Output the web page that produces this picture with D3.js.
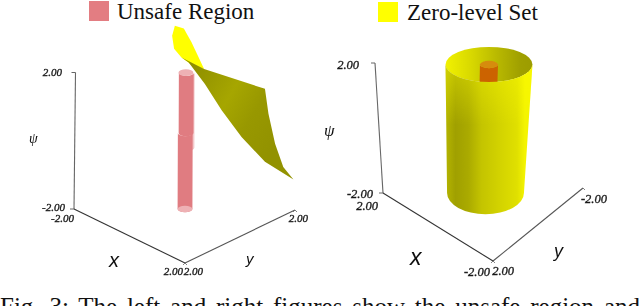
<!DOCTYPE html>
<html>
<head>
<meta charset="utf-8">
<script src="https://cdn.jsdelivr.net/npm/d3@7/dist/d3.min.js"></script>
<style>
html, body { margin: 0; padding: 0; background: #fff; overflow: hidden; }
svg { display: block; }
text { fill: #111; }
.legend, .caption { font-family: "Liberation Serif", serif; }
.tick { font-family: "Liberation Serif", serif; font-style: italic; stroke: #222; stroke-width: 0.35px; }
.axisname { font-family: "Liberation Sans", sans-serif; font-style: italic; }
.psi { font-family: "Liberation Serif", serif; font-style: italic; }
</style>
</head>
<body>
<svg></svg>
<script>
var width = 640;
var height = 306;

// values
var legendNames = ["Unsafe Region", "Zero-level Set"];
var captionText = "Fig. 3: The left and right figures show the unsafe region and";
var psiDomain = [-2, 2];
var tickNamesLeft = ["2.00", "-2.00", "-2.00", "2.00", "2.00", "2.00"];
var tickNamesRight = ["2.00", "-2.00", "2.00", "-2.00", "2.00", "-2.00"];

// radius / psi range of the cylinders
var unsafeRadius = 0.19;
var unsafeSegments = [
    { from: -0.2, to: 2, shift: 0.045, color: "#f3c9cb" },
    { from: 0.23, to: 2, shift: 0.02, color: "#e07c81" },
    { from: -2, to: 0.23, shift: 0, color: "#e07c81" }
];
var levelRadius = 1.08;
var innerRadius = 0.225;

// zero level surface, [h, psi] where h runs across the view
var surfaceBack = [[-0.26, 3.39], [-0.03, 3.31], [0.17, 2.90], [0.49, 2.12], [0.2, 2.22],
    [-0.09, 2.46], [-0.28, 2.72], [-0.33, 3.10]];
var surfaceFront = [[-0.09, 2.46], [0.49, 2.12], [2.05, 1.54], [2.14, 0.81], [2.31, -0.07],
    [2.52, -0.75], [2.78, -1.12], [2.05, -0.60], [1.45, 0.13], [0.94, 0.91], [0.51, 1.68], [0.09, 2.32]];

// shading stops
var bodyStops = [[0, "#b4b400"], [0.12, "#a0a000"], [0.28, "#aaaa00"], [0.45, "#c4c400"], [0.7, "#d4d400"], [0.9, "#e0e000"], [1, "#f4f400"]];
var wallStops = [[0, "#f2f200"], [0.3, "#d8d800"], [0.6, "#b8b800"], [0.85, "#a0a000"], [1, "#9c9c00"]];
var frontStops = [[0, "#8c8c00"], [0.45, "#a6a600"], [0.7, "#989800"], [1, "#929200"]];

var svg = d3.select("svg").attr("width", width).attr("height", height);
var defs = svg.append("defs");

defs.append("filter").attr("id", "soft")
    .attr("x", "-5%").attr("y", "-5%").attr("width", "110%").attr("height", "110%")
    .append("feGaussianBlur").attr("stdDeviation", 0.4);

function addGradient(id, stops, x1, y1, x2, y2) {
    var g = defs.append("linearGradient").attr("id", id)
        .attr("gradientUnits", "userSpaceOnUse")
        .attr("x1", x1).attr("y1", y1).attr("x2", x2).attr("y2", y2);
    g.selectAll("stop").data(stops).enter().append("stop")
        .attr("offset", function (d) { return d[0]; })
        .attr("stop-color", function (d) { return d[1]; });
    return g;
}
addGradient("body", bodyStops, 446, 0, 525, 0);
addGradient("wall", wallStops, 445, 0, 533, 0);
addGradient("front", frontStops, 190, 60, 290, 120);
var glow = addGradient("glow", [[0, "#ffff00"], [1, "#ffff00"]], 0, 66, 0, 125);
glow.selectAll("stop").attr("stop-opacity", function (d, i) { return i ? 0 : 0.4; });

// one panel of the 3d box, psi scales give the centre and size of a slice
function makePanel(o) {
    return {
        xAxis: d3.scaleLinear().domain(o.xDomain).range(o.xRange),
        yAxis: d3.scaleLinear().domain(o.yDomain).range(o.yRange),
        psiAxis: d3.scaleLinear().domain(psiDomain).range(o.psiRange),
        cx: d3.scaleLinear().domain(psiDomain).range(o.cx),
        cy: d3.scaleLinear().domain(psiDomain).range(o.cy),
        grow: d3.scaleLinear().domain(psiDomain).range(o.grow),
        open: d3.scaleLinear().domain(psiDomain).range(o.open),
        h: d3.scaleLinear().domain([0, 1]).range([0, o.unit])
    };
}

var left = makePanel({
    xDomain: [-2, 2], xRange: [[74, 209], [185, 263]],
    yDomain: [2, -2], yRange: [[185, 263], [295, 210]],
    psiRange: [[74, 209], [75.5, 72.5]],
    cx: [185, 185.5], cy: [209, 72.7], grow: [1, 1], open: [0.45, 0.45], unit: 39
});
var right = makePanel({
    xDomain: [2, -2], xRange: [[383, 193], [493, 261]],
    yDomain: [2, -2], yRange: [[493, 261], [583, 188]],
    psiRange: [[383, 193], [375, 63]],
    cx: [485.5, 489], cy: [193, 64.5], grow: [1, 1.13], open: [0.55, 0.405], unit: 35.6
});

var plot = svg.append("g").attr("filter", "url(#soft)");

function ellipse(g, p, psi, r, shift, fill) {
    return g.append("ellipse")
        .attr("cx", p.cx(psi) + p.h(shift))
        .attr("cy", p.cy(psi))
        .attr("rx", p.h(r) * p.grow(psi))
        .attr("ry", p.h(r) * p.grow(psi) * p.open(psi))
        .attr("fill", fill);
}

// side of a cylinder between two psi values, front half of both rims
function side(g, p, from, to, r, shift, fill) {
    var rt = p.h(r) * p.grow(to), rb = p.h(r) * p.grow(from);
    var xt = p.cx(to) + p.h(shift), xb = p.cx(from) + p.h(shift);
    var yt = p.cy(to), yb = p.cy(from);
    var d = "M" + (xt - rt) + "," + yt
        + "A" + rt + "," + rt * p.open(to) + " 0 0 0 " + (xt + rt) + "," + yt
        + "L" + (xb + rb) + "," + yb
        + "A" + rb + "," + rb * p.open(from) + " 0 0 1 " + (xb - rb) + "," + yb + "Z";
    return g.append("path").attr("d", d).attr("fill", fill);
}

// array ranges hand back one shared array, so copy each point
function pt(scale, v) {
    return scale(v).slice();
}

function drawAxes(p) {
    var line = d3.line();
    var parts = [
        { s: p.psiAxis, c: "#666" },
        { s: p.xAxis, c: "#333" },
        { s: p.yAxis, c: "#555" }
    ];
    parts.forEach(function (a) {
        var ends = a.s.domain().map(function (v) { return pt(a.s, v); });
        plot.append("path").attr("d", line(ends))
            .attr("fill", "none").attr("stroke", a.c).attr("stroke-width", 1.1);
    });
    // little end ticks
    psiDomain.forEach(function (v) {
        var e = pt(p.psiAxis, v);
        plot.append("path").attr("d", line([[e[0] - 4, e[1]], e]))
            .attr("fill", "none").attr("stroke", "#666");
    });
    [pt(p.xAxis, p.xAxis.domain()[1]), pt(p.yAxis, p.yAxis.domain()[1])].forEach(function (e) {
        plot.append("path").attr("d", line([[e[0] - 2, e[1] + 2], e, [e[0] + 2, e[1] + 2]]))
            .attr("fill", "none").attr("stroke", "#666").attr("stroke-width", 0.8);
    });
}

function drawLabels(rows, size) {
    rows.forEach(function (r) {
        plot.append("text").attr("class", "tick").attr("x", r[1]).attr("y", r[2])
            .attr("font-size", size).attr("text-anchor", "end").text(r[0]);
    });
}

// left panel
drawAxes(left);
var surfaceLine = d3.line()
    .x(function (d) { return left.cx(-2) + left.h(d[0]); })
    .y(function (d) { return 209.5 - (d[1] + 2) * (left.cy(-2) - left.cy(2)) / 4; });

unsafeSegments.forEach(function (s) {
    side(plot, left, s.from, s.to, unsafeRadius, s.shift, s.color);
});
ellipse(plot, left, 2, unsafeRadius, 0.01, "#eeb1b4");
ellipse(plot, left, -2, unsafeRadius, 0, "#eeb1b4");
plot.append("path").attr("d", surfaceLine(surfaceBack) + "Z").attr("fill", "#ffff00");
plot.append("path").attr("d", surfaceLine(surfaceFront) + "Z").attr("fill", "url(#front)");

drawLabels([
    [tickNamesLeft[0], 62, 76], [tickNamesLeft[1], 65, 211], [tickNamesLeft[2], 74, 222],
    [tickNamesLeft[3], 183, 275], [tickNamesLeft[4], 203, 275], [tickNamesLeft[5], 308, 222]
], 11);
plot.append("text").attr("class", "psi").attr("x", 29).attr("y", 143).attr("font-size", 14).text("\u03C8");
plot.append("text").attr("class", "axisname").attr("x", 109).attr("y", 267).attr("font-size", 20).text("x");
plot.append("text").attr("class", "axisname").attr("x", 246).attr("y", 264).attr("font-size", 15).text("y");

// right panel
drawAxes(right);
ellipse(plot, right, 2, levelRadius, 0, "url(#wall)");
side(plot, right, -2, 2, innerRadius, 0, "#cc6400");
ellipse(plot, right, 2, innerRadius, 0, "#d68c10");
side(plot, right, -2, 2, levelRadius, 0, "url(#body)");
side(plot, right, 0, 2, levelRadius, 0, "url(#glow)");

drawLabels([
    [tickNamesRight[0], 359, 69], [tickNamesRight[1], 373, 198], [tickNamesRight[2], 378, 210],
    [tickNamesRight[3], 490, 276], [tickNamesRight[4], 514, 275], [tickNamesRight[5], 607, 203]
], 12.5);
plot.append("text").attr("class", "psi").attr("x", 324).attr("y", 136).attr("font-size", 17).text("\u03C8");
plot.append("text").attr("class", "axisname").attr("x", 410).attr("y", 265).attr("font-size", 23).text("x");
plot.append("text").attr("class", "axisname").attr("x", 554).attr("y", 257).attr("font-size", 18).text("y");

// legend on top
var legendRows = [
    { name: legendNames[0], color: "#e37d82", x: 89, y: 1, tx: 117, ty: 18.5 },
    { name: legendNames[1], color: "#ffff00", x: 378, y: 2, tx: 407, ty: 19.5 }
];
legendRows.forEach(function (r) {
    svg.append("rect").attr("x", r.x).attr("y", r.y).attr("width", 20).attr("height", 20).attr("fill", r.color);
    svg.append("text").attr("class", "legend").attr("x", r.tx).attr("y", r.ty)
        .attr("font-size", 23).text(r.name);
});

// the caption runs off the bottom of the picture, spread it to the full width
var caption = svg.append("text").attr("class", "caption").attr("x", 0).attr("y", 315)
    .attr("font-size", 25).text(captionText);
var gaps = captionText.split(" ").length - 1;
caption.attr("word-spacing", (640 - caption.node().getComputedTextLength()) / gaps);
</script>
</body>
</html>
